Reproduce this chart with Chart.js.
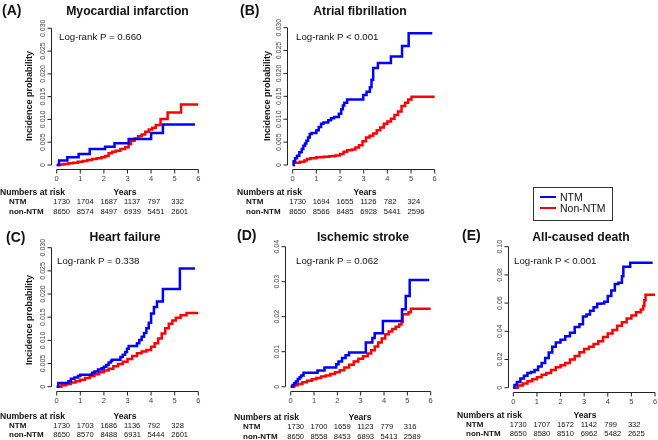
<!DOCTYPE html>
<html>
<head>
<meta charset="utf-8">
<script src="https://cdn.jsdelivr.net/npm/chart.js@4.4.1/dist/chart.umd.min.js"></script>
<style>
  html, body { margin: 0; padding: 0; background: #fff; }
  #fig { position: relative; width: 658px; height: 440px; overflow: hidden; font-family: "Liberation Sans", Arial, sans-serif; color: #111; }
  #fig canvas { position: absolute; left: 0; top: 0; }
  .t { position: absolute; white-space: nowrap; }
</style>
</head>
<body>
<div id="fig"></div>
<script>
// --- data (time in years, cumulative incidence)
const xTicks = [0, 1, 2, 3, 4, 5, 6];
const groups = ['NTM', 'Non-NTM'];
const riskRowNames = ['NTM', 'non-NTM'];

// (A) myocardial infarction
const miNtmT = [0, 0.1, 0.45, 0.93, 1.4, 2.05, 2.45, 3.05, 4.0, 4.5, 5.86];
const miNtmP = [0, 0.001, 0.0017, 0.0024, 0.0035, 0.004, 0.0048, 0.0057, 0.007, 0.0089, 0.0089];
const miNonT = [0, 0.15, 0.3, 0.5, 0.7, 0.9, 1.1, 1.3, 1.5, 1.7, 1.9, 2.05, 2.2, 2.35, 2.5, 2.7, 2.9, 3.05, 3.15, 3.3, 3.45, 3.6, 3.75, 3.9, 4.05, 4.2, 4.4, 4.7, 5.27, 6.0];
const miNonP = [0, 0.0001, 0.0002, 0.0004, 0.0005, 0.0007, 0.0009, 0.0011, 0.0013, 0.0015, 0.0017, 0.002, 0.0026, 0.0029, 0.0031, 0.0035, 0.0039, 0.0046, 0.0053, 0.0058, 0.0063, 0.0067, 0.0073, 0.0078, 0.0082, 0.0088, 0.0101, 0.0115, 0.0133, 0.0133];
const miRiskNtm = [1730, 1704, 1687, 1137, 797, 332];
const miRiskNon = [8650, 8574, 8497, 6939, 5451, 2601];

// (B) atrial fibrillation
const afNtmT = [0, 0.04, 0.1, 0.18, 0.28, 0.38, 0.45, 0.52, 0.58, 0.65, 0.72, 0.8, 1.0, 1.1, 1.2, 1.3, 1.5, 1.62, 1.75, 1.95, 2.05, 2.12, 2.18, 2.3, 2.98, 3.12, 3.26, 3.33, 3.4, 3.6, 4.15, 4.62, 4.9, 5.9];
const afNtmP = [0, 0.0008, 0.0015, 0.002, 0.0028, 0.0035, 0.0042, 0.0047, 0.0053, 0.006, 0.0068, 0.007, 0.0076, 0.0083, 0.009, 0.0093, 0.0098, 0.0102, 0.0105, 0.0112, 0.0122, 0.013, 0.0136, 0.0143, 0.0153, 0.016, 0.017, 0.0186, 0.0212, 0.0223, 0.0237, 0.026, 0.0288, 0.0288];
const afNonT = [0, 0.05, 0.3, 0.5, 0.6, 0.75, 1.0, 1.3, 1.55, 1.8, 2.0, 2.15, 2.3, 2.5, 2.65, 2.8, 2.95, 3.1, 3.25, 3.4, 3.55, 3.7, 3.85, 4.0, 4.15, 4.3, 4.45, 4.6, 4.75, 4.88, 5.02, 6.0];
const afNonP = [0, 0.0005, 0.0007, 0.001, 0.0013, 0.0015, 0.0017, 0.0018, 0.0019, 0.0021, 0.0024, 0.0029, 0.0032, 0.0034, 0.0038, 0.0043, 0.0052, 0.006, 0.0064, 0.0069, 0.0076, 0.0082, 0.009, 0.0095, 0.0101, 0.0109, 0.0117, 0.0129, 0.0136, 0.0143, 0.0149, 0.0149];
const afRiskNtm = [1730, 1694, 1655, 1126, 782, 324];
const afRiskNon = [8650, 8566, 8485, 6928, 5441, 2596];

// (C) heart failure
const hfNtmT = [0, 0.07, 0.5, 0.6, 0.75, 0.9, 1.0, 1.5, 1.6, 1.75, 1.9, 2.0, 2.1, 2.2, 2.3, 2.35, 2.7, 2.8, 2.9, 2.98, 3.05, 3.4, 3.5, 3.6, 3.7, 3.8, 3.9, 4.0, 4.12, 4.25, 4.5, 5.22, 5.86];
const hfNtmP = [0, 0.0008, 0.0012, 0.0017, 0.002, 0.0023, 0.0026, 0.003, 0.0033, 0.0037, 0.004, 0.0043, 0.0047, 0.0052, 0.0056, 0.0058, 0.0064, 0.0069, 0.0075, 0.0082, 0.0088, 0.0094, 0.0101, 0.0108, 0.0116, 0.0126, 0.0138, 0.0158, 0.0172, 0.0184, 0.0211, 0.0255, 0.0255];
const hfNonT = [0, 0.2, 0.4, 0.6, 0.8, 1.0, 1.2, 1.4, 1.6, 1.8, 2.0, 2.2, 2.4, 2.6, 2.8, 3.0, 3.2, 3.4, 3.6, 3.8, 4.0, 4.15, 4.3, 4.45, 4.6, 4.75, 4.9, 5.05, 5.25, 5.5, 6.0];
const hfNonP = [0, 0.0003, 0.0006, 0.0009, 0.0012, 0.0015, 0.0019, 0.0023, 0.0027, 0.0031, 0.0035, 0.0039, 0.0044, 0.0049, 0.0054, 0.006, 0.0066, 0.0072, 0.0076, 0.0079, 0.0086, 0.0094, 0.0104, 0.0115, 0.0126, 0.0136, 0.0143, 0.0149, 0.0154, 0.0159, 0.0159];
const hfRiskNtm = [1730, 1703, 1686, 1136, 792, 328];
const hfRiskNon = [8650, 8570, 8488, 6931, 5444, 2601];

// (D) ischemic stroke
const isNtmT = [0, 0.08, 0.15, 0.22, 0.3, 0.38, 0.45, 0.55, 1.15, 1.45, 1.95, 2.05, 2.2, 2.35, 2.5, 3.22, 3.5, 3.6, 3.95, 4.77, 4.93, 5.1, 5.94];
const isNtmP = [0, 0.0005, 0.001, 0.0015, 0.0022, 0.0027, 0.0032, 0.004, 0.0046, 0.0055, 0.0064, 0.0072, 0.0082, 0.009, 0.0098, 0.0126, 0.0139, 0.0153, 0.0188, 0.0221, 0.0259, 0.0305, 0.0305];
const isNonT = [0, 0.15, 0.3, 0.5, 0.7, 0.9, 1.1, 1.3, 1.5, 1.7, 1.9, 2.1, 2.3, 2.5, 2.7, 2.9, 3.1, 3.3, 3.45, 3.6, 3.75, 3.9, 4.05, 4.2, 4.35, 4.5, 4.65, 4.75, 4.8, 5.05, 5.15, 6.0];
const isNonP = [0, 0.0004, 0.0008, 0.0013, 0.0017, 0.0021, 0.0025, 0.0029, 0.0032, 0.0036, 0.0041, 0.0047, 0.0055, 0.0063, 0.0072, 0.008, 0.0087, 0.0095, 0.0104, 0.0115, 0.0126, 0.0138, 0.015, 0.0158, 0.0165, 0.0171, 0.0178, 0.0185, 0.0207, 0.0213, 0.0223, 0.0223];
const isRiskNtm = [1730, 1700, 1659, 1123, 779, 316];
const isRiskNon = [8650, 8558, 8453, 6893, 5413, 2589];

// (E) all-caused death
const dNtmT = [0, 0.05, 0.15, 0.3, 0.45, 0.6, 0.75, 0.9, 1.05, 1.2, 1.35, 1.5, 1.65, 1.8, 2.0, 2.2, 2.4, 2.6, 2.8, 2.95, 3.1, 3.25, 3.4, 3.55, 3.7, 3.85, 4.0, 4.15, 4.3, 4.45, 4.6, 4.66, 4.95, 5.9];
const dNtmP = [0, 0.002, 0.004, 0.0065, 0.0085, 0.0105, 0.0112, 0.0125, 0.015, 0.0175, 0.021, 0.025, 0.029, 0.032, 0.034, 0.0365, 0.039, 0.043, 0.045, 0.0505, 0.052, 0.0545, 0.057, 0.0595, 0.0598, 0.061, 0.065, 0.069, 0.0735, 0.0745, 0.079, 0.0858, 0.0887, 0.0887];
const dNonT = [0, 0.2, 0.4, 0.6, 0.8, 1.0, 1.2, 1.4, 1.6, 1.8, 2.0, 2.2, 2.4, 2.6, 2.8, 3.0, 3.2, 3.4, 3.6, 3.8, 4.0, 4.2, 4.4, 4.6, 4.8, 5.0, 5.2, 5.4, 5.5, 5.55, 5.6, 6.0];
const dNonP = [0, 0.0015, 0.003, 0.0045, 0.006, 0.0075, 0.0092, 0.0105, 0.0125, 0.0145, 0.016, 0.0175, 0.02, 0.0225, 0.0252, 0.0275, 0.029, 0.031, 0.033, 0.036, 0.0385, 0.041, 0.044, 0.0465, 0.049, 0.0512, 0.0535, 0.0555, 0.058, 0.062, 0.066, 0.066];
const dRiskNtm = [1730, 1707, 1672, 1142, 799, 332];
const dRiskNon = [8650, 8580, 8510, 6962, 5482, 2625];

// y tick values and their labels
const yTicks030 = [0, 0.005, 0.01, 0.015, 0.02, 0.025, 0.03];
const yLabels030 = ['0', '0.005', '0.010', '0.015', '0.020', '0.025', '0.030'];
const yTicks04 = [0, 0.01, 0.02, 0.03, 0.04];
const yLabels04 = ['0', '0.01', '0.02', '0.03', '0.04'];
const yTicks10 = [0, 0.02, 0.04, 0.06, 0.08, 0.1];
const yLabels10 = ['0', '0.02', '0.04', '0.06', '0.08', '0.10'];

// --- page
const W = 680, H = 440;
const BLUE = '#0000ff', RED = '#ff0000';
const FONT = '"Liberation Sans", Arial, sans-serif';
const fig = document.getElementById('fig');

function txt(str, x, y, font, align, rot) {
  const d = document.createElement('div');
  d.className = 't';
  d.textContent = str;
  d.style.font = font + ' ' + FONT;
  d.style.lineHeight = '1';
  d.style.left = x + 'px';
  d.style.top = y + 'px';
  let tf = align === 'center' ? 'translate(-50%,-50%)' : 'translate(0,-50%)';
  if (rot) tf += ' rotate(-90deg)';
  d.style.transform = tf;
  fig.appendChild(d);
  return d;
}

// R-style axes: lines only from first to last tick, set off from the data
const rAxes = {
  id: 'rAxes',
  afterDraw(chart, args, opts) {
    const { ctx, chartArea: a, scales: { x, y } } = chart;
    const lx = Math.round(a.left) + 0.5, by = Math.round(a.bottom) - 0.5;
    ctx.save();
    ctx.strokeStyle = '#222';
    ctx.lineWidth = 1;
    ctx.beginPath();
    ctx.moveTo(lx, y.getPixelForValue(opts.yTicks[0]));
    ctx.lineTo(lx, y.getPixelForValue(opts.yTicks[opts.yTicks.length - 1]));
    opts.yTicks.forEach(v => { const py = y.getPixelForValue(v); ctx.moveTo(lx, py); ctx.lineTo(lx - 4, py); });
    ctx.moveTo(x.getPixelForValue(xTicks[0]), by);
    ctx.lineTo(x.getPixelForValue(xTicks[xTicks.length - 1]), by);
    xTicks.forEach(v => { const px = x.getPixelForValue(v); ctx.moveTo(px, by); ctx.lineTo(px, by + 4); });
    ctx.stroke();

    ctx.fillStyle = '#444';
    ctx.font = '7px ' + FONT;
    ctx.textAlign = 'center';
    ctx.textBaseline = 'middle';
    opts.yTicks.forEach((v, i) => {
      ctx.save();
      ctx.translate(lx - 8.5, y.getPixelForValue(v));
      ctx.rotate(-Math.PI / 2);
      ctx.fillText(opts.yLabels[i], 0, 0);
      ctx.restore();
    });
    ctx.font = '7.5px ' + FONT;
    xTicks.forEach(v => ctx.fillText(String(v), x.getPixelForValue(v), by + 9));
    ctx.restore();
  }
};

function panel(g, ntmT, ntmP, nonT, nonP, yTicks, yLabels, riskNtm, riskNon) {
  const yMax = yTicks[yTicks.length - 1];
  const xs = (g.x6 - g.x0) / 6, span = g.y0 - g.yTop;
  const cv = document.createElement('canvas');
  cv.width = W; cv.height = H;
  cv.style.width = W + 'px'; cv.style.height = H + 'px';
  fig.appendChild(cv);

  const chart = new Chart(cv.getContext('2d'), {
    type: 'line',
    data: {
      datasets: [
        { label: groups[0], data: ntmT.map((t, i) => ({ x: t, y: ntmP[i] })), borderColor: BLUE, borderWidth: 2.5, stepped: true, pointRadius: 0, fill: false },
        { label: groups[1], data: nonT.map((t, i) => ({ x: t, y: nonP[i] })), borderColor: RED, borderWidth: 2.5, stepped: true, pointRadius: 0, fill: false }
      ]
    },
    options: {
      responsive: false, animation: false, devicePixelRatio: 1,
      layout: { padding: {
        left: g.x0 - 0.24 * xs, right: W - (g.x6 + 0.24 * xs),
        top: g.yTop - 0.04 * span, bottom: H - (g.y0 + 0.04 * span)
      } },
      scales: {
        x: { type: 'linear', display: false, min: -0.24, max: 6.24 },
        y: { type: 'linear', display: false, min: -0.04 * yMax, max: 1.04 * yMax }
      },
      plugins: { legend: { display: false }, tooltip: { enabled: false }, rAxes: { yTicks, yLabels } }
    },
    plugins: [rAxes]
  });

  txt(g.tag, g.tagX, g.tagY, 'bold 14px', 'left');
  txt(g.title, g.titleX, g.titleY, 'bold 12.2px', 'center');
  txt(g.pText, g.pX, g.pY, '9.7px', 'left');
  if (g.ylab) txt('Incidence probability', g.ylab[0], g.ylab[1], 'bold 9px', 'center', true);
  txt('Numbers at risk', g.riskLabX, g.riskY[0], 'bold 8.6px', 'left');
  txt('Years', g.yearsX, g.riskY[0], 'bold 8.6px', 'center');
  txt(riskRowNames[0], g.rowLabX, g.riskY[1], 'bold 8px', 'left');
  txt(riskRowNames[1], g.rowLabX, g.riskY[2], 'bold 8px', 'left');
  const sx = chart.scales.x;
  riskNtm.forEach((n, i) => txt(String(n), sx.getPixelForValue(xTicks[i]) - 3.5, g.riskY[1], '7.6px', 'left'));
  riskNon.forEach((n, i) => txt(String(n), sx.getPixelForValue(xTicks[i]) - 3.5, g.riskY[2], '7.6px', 'left'));
  return chart;
}

panel({ x0: 56.7, x6: 198.3, y0: 165, yTop: 28.3, tag: '(A)', tagX: 2, tagY: 10, title: 'Myocardial infarction', titleX: 127.5, titleY: 11,
  pText: 'Log-rank P = 0.660', pX: 59, pY: 37, ylab: [29, 96], riskY: [192, 202, 212], riskLabX: 0, rowLabX: 9, yearsX: 125 },
  miNtmT, miNtmP, miNonT, miNonP, yTicks030, yLabels030, miRiskNtm, miRiskNon);

panel({ x0: 292.7, x6: 434.7, y0: 165, yTop: 27.7, tag: '(B)', tagX: 240, tagY: 10, title: 'Atrial fibrillation', titleX: 360, titleY: 11,
  pText: 'Log-rank P < 0.001', pX: 296, pY: 37, ylab: [266.7, 96], riskY: [192, 202, 212], riskLabX: 237, rowLabX: 246, yearsX: 365 },
  afNtmT, afNtmP, afNonT, afNonP, yTicks030, yLabels030, afRiskNtm, afRiskNon);

panel({ x0: 56.7, x6: 198.3, y0: 386.7, yTop: 247.7, tag: '(C)', tagX: 6, tagY: 237, title: 'Heart failure', titleX: 125, titleY: 237,
  pText: 'Log-rank P = 0.338', pX: 57, pY: 261, ylab: [29, 320], riskY: [416, 426, 435], riskLabX: 0, rowLabX: 9, yearsX: 125 },
  hfNtmT, hfNtmP, hfNonT, hfNonP, yTicks030, yLabels030, hfRiskNtm, hfRiskNon);

panel({ x0: 290.7, x6: 430.7, y0: 386.7, yTop: 246.7, tag: '(D)', tagX: 237, tagY: 235, title: 'Ischemic stroke', titleX: 363, titleY: 237,
  pText: 'Log-rank P = 0.062', pX: 296, pY: 261, ylab: null, riskY: [417, 427, 437], riskLabX: 234, rowLabX: 243, yearsX: 360 },
  isNtmT, isNtmP, isNonT, isNonP, yTicks04, yLabels04, isRiskNtm, isRiskNon);

panel({ x0: 513.3, x6: 655, y0: 387.7, yTop: 246.7, tag: '(E)', tagX: 462, tagY: 235, title: 'All-caused death', titleX: 581, titleY: 237,
  pText: 'Log-rank P < 0.001', pX: 514, pY: 261, ylab: null, riskY: [415, 425, 434], riskLabX: 457, rowLabX: 466, yearsX: 585 },
  dNtmT, dNtmP, dNonT, dNonP, yTicks10, yLabels10, dRiskNtm, dRiskNon);

// --- shared legend
const box = document.createElement('div');
box.style.cssText = 'position:absolute;left:533px;top:187px;width:78px;height:32px;border:1px solid #333;';
fig.appendChild(box);
[[groups[0], BLUE, 197.3], [groups[1], RED, 208.3]].forEach(([name, col, y]) => {
  const ln = document.createElement('div');
  ln.style.cssText = `position:absolute;left:540px;top:${y - 1}px;width:16px;height:2px;background:${col};`;
  fig.appendChild(ln);
  txt(name, 560, y, '10.5px', 'left');
});
</script>
</body>
</html>
